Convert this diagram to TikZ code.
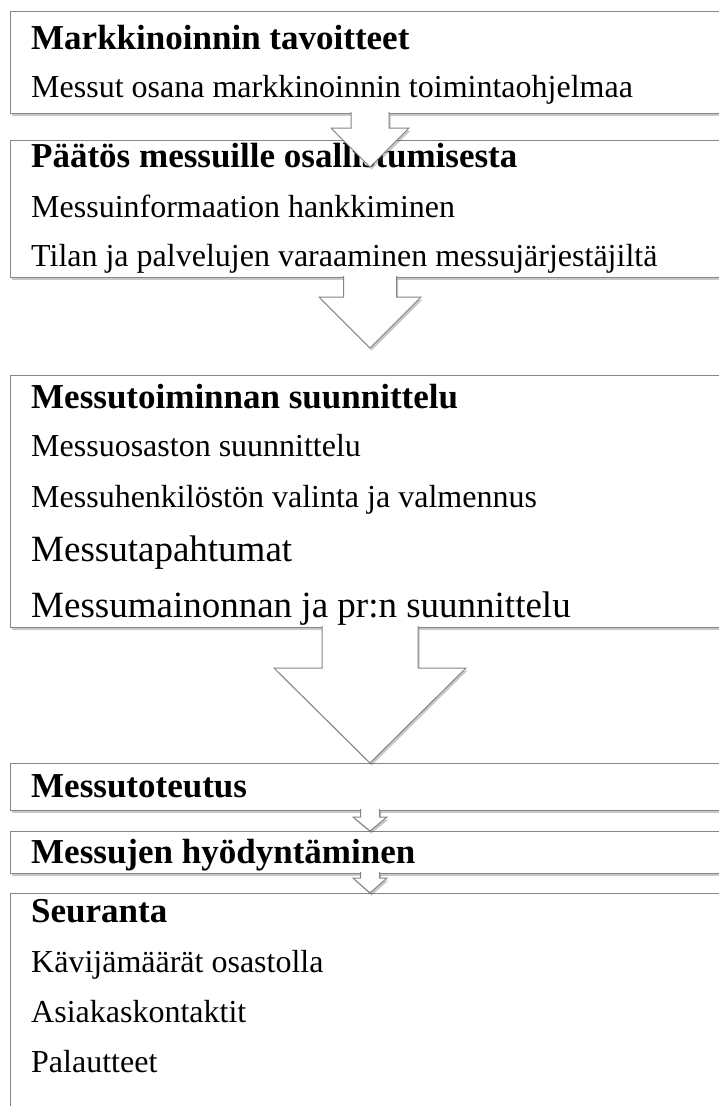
\documentclass[tikz,border=0pt]{standalone}
\usepackage{fontspec}
\setmainfont{Liberation Serif}
\usetikzlibrary{calc,shadows}
\definecolor{boxgray}{HTML}{858585}
\tikzset{
  softshadow/.style={drop shadow={shadow xshift=1.5pt, shadow yshift=-2.5pt, opacity=0.3, fill=black!70}},
  panel/.style={draw=boxgray, fill=white, line width=1pt, inner sep=0pt, outer sep=0pt,
    anchor=north west, minimum width=720pt, softshadow},
  headline/.style={anchor=base west, inner sep=0pt, font=\fontsize{35}{38}\selectfont\bfseries},
  itemline/.style={anchor=base west, inner sep=0pt, font=\fontsize{32}{36}\selectfont},
  bigline/.style={anchor=base west, inner sep=0pt, font=\fontsize{37}{40}\selectfont},
  blockarrow/.style={draw=boxgray, fill=white, line width=1pt, line join=miter, softshadow},
}
% block arrow hanging below a box: box, shaft half width, shaft length, head half width, total length
\newcommand{\hangarrow}[5]{%
  \draw[blockarrow]
    ($(#1.south)+(-#2,-1)$) -- ($(#1.south)+(-#2,#3)$) -- ($(#1.south)+(-#4,#3)$)
    -- ($(#1.south)+(0,#5)$)
    -- ($(#1.south)+(#4,#3)$) -- ($(#1.south)+(#2,#3)$) -- ($(#1.south)+(#2,-1)$);}
\begin{document}
\begin{tikzpicture}[x=1pt,y=-1pt]
\useasboundingbox[fill=white] (0,0) rectangle (718,1106);

% boxes
\node[panel, minimum height=102pt] (b1) at (10,11) {};
\node[panel, minimum height=137pt] (b2) at (10,140) {};
\node[panel, minimum height=252pt] (b3) at (10,375) {};
\node[panel, minimum height=47pt]  (b4) at (10,763) {};
\node[panel, minimum height=42pt]  (b5) at (10,831) {};
\node[panel, minimum height=240pt] (b6) at (10,893) {};

% texts
\node[headline] (t1) at (31,49) {Markkinoinnin tavoitteet};
\node[itemline] (t1a) at (31,97) {Messut osana markkinoinnin toimintaohjelmaa};

\node[headline] (t2) at (31,167) {Päätös messuille osallistumisesta};
\node[itemline] (t2a) at (31,217) {Messuinformaation hankkiminen};
\node[itemline] (t2b) at (31,266) {Tilan ja palvelujen varaaminen messujärjestäjiltä};

\node[headline] (t3) at (31,408) {Messutoiminnan suunnittelu};
\node[itemline] (t3a) at (31,456) {Messuosaston suunnittelu};
\node[itemline] (t3b) at (31,507) {Messuhenkilöstön valinta ja valmennus};
\node[bigline] (t3c) at (31,561) {Messutapahtumat};
\node[bigline] (t3d) at (31,617) {Messumainonnan ja pr:n suunnittelu};

\node[headline] (t4) at (31,797) {Messutoteutus};
\node[headline] (t5) at (31,863) {Messujen hyödyntäminen};

\node[headline] (t6) at (31,922) {Seuranta};
\node[itemline] (t6a) at (31,972) {Kävijämäärät osastolla};
\node[itemline] (t6b) at (31,1022) {Asiakaskontaktit};
\node[itemline] (t6c) at (31,1072) {Palautteet};

% arrows between the boxes
\hangarrow{b1}{19}{15}{39}{54}
\hangarrow{b2}{26.5}{20}{51}{71}
\hangarrow{b3}{48}{41}{96}{136}
\hangarrow{b4}{9.5}{7}{17}{21}
\hangarrow{b5}{9.5}{5}{17}{20}
\end{tikzpicture}
\end{document}
